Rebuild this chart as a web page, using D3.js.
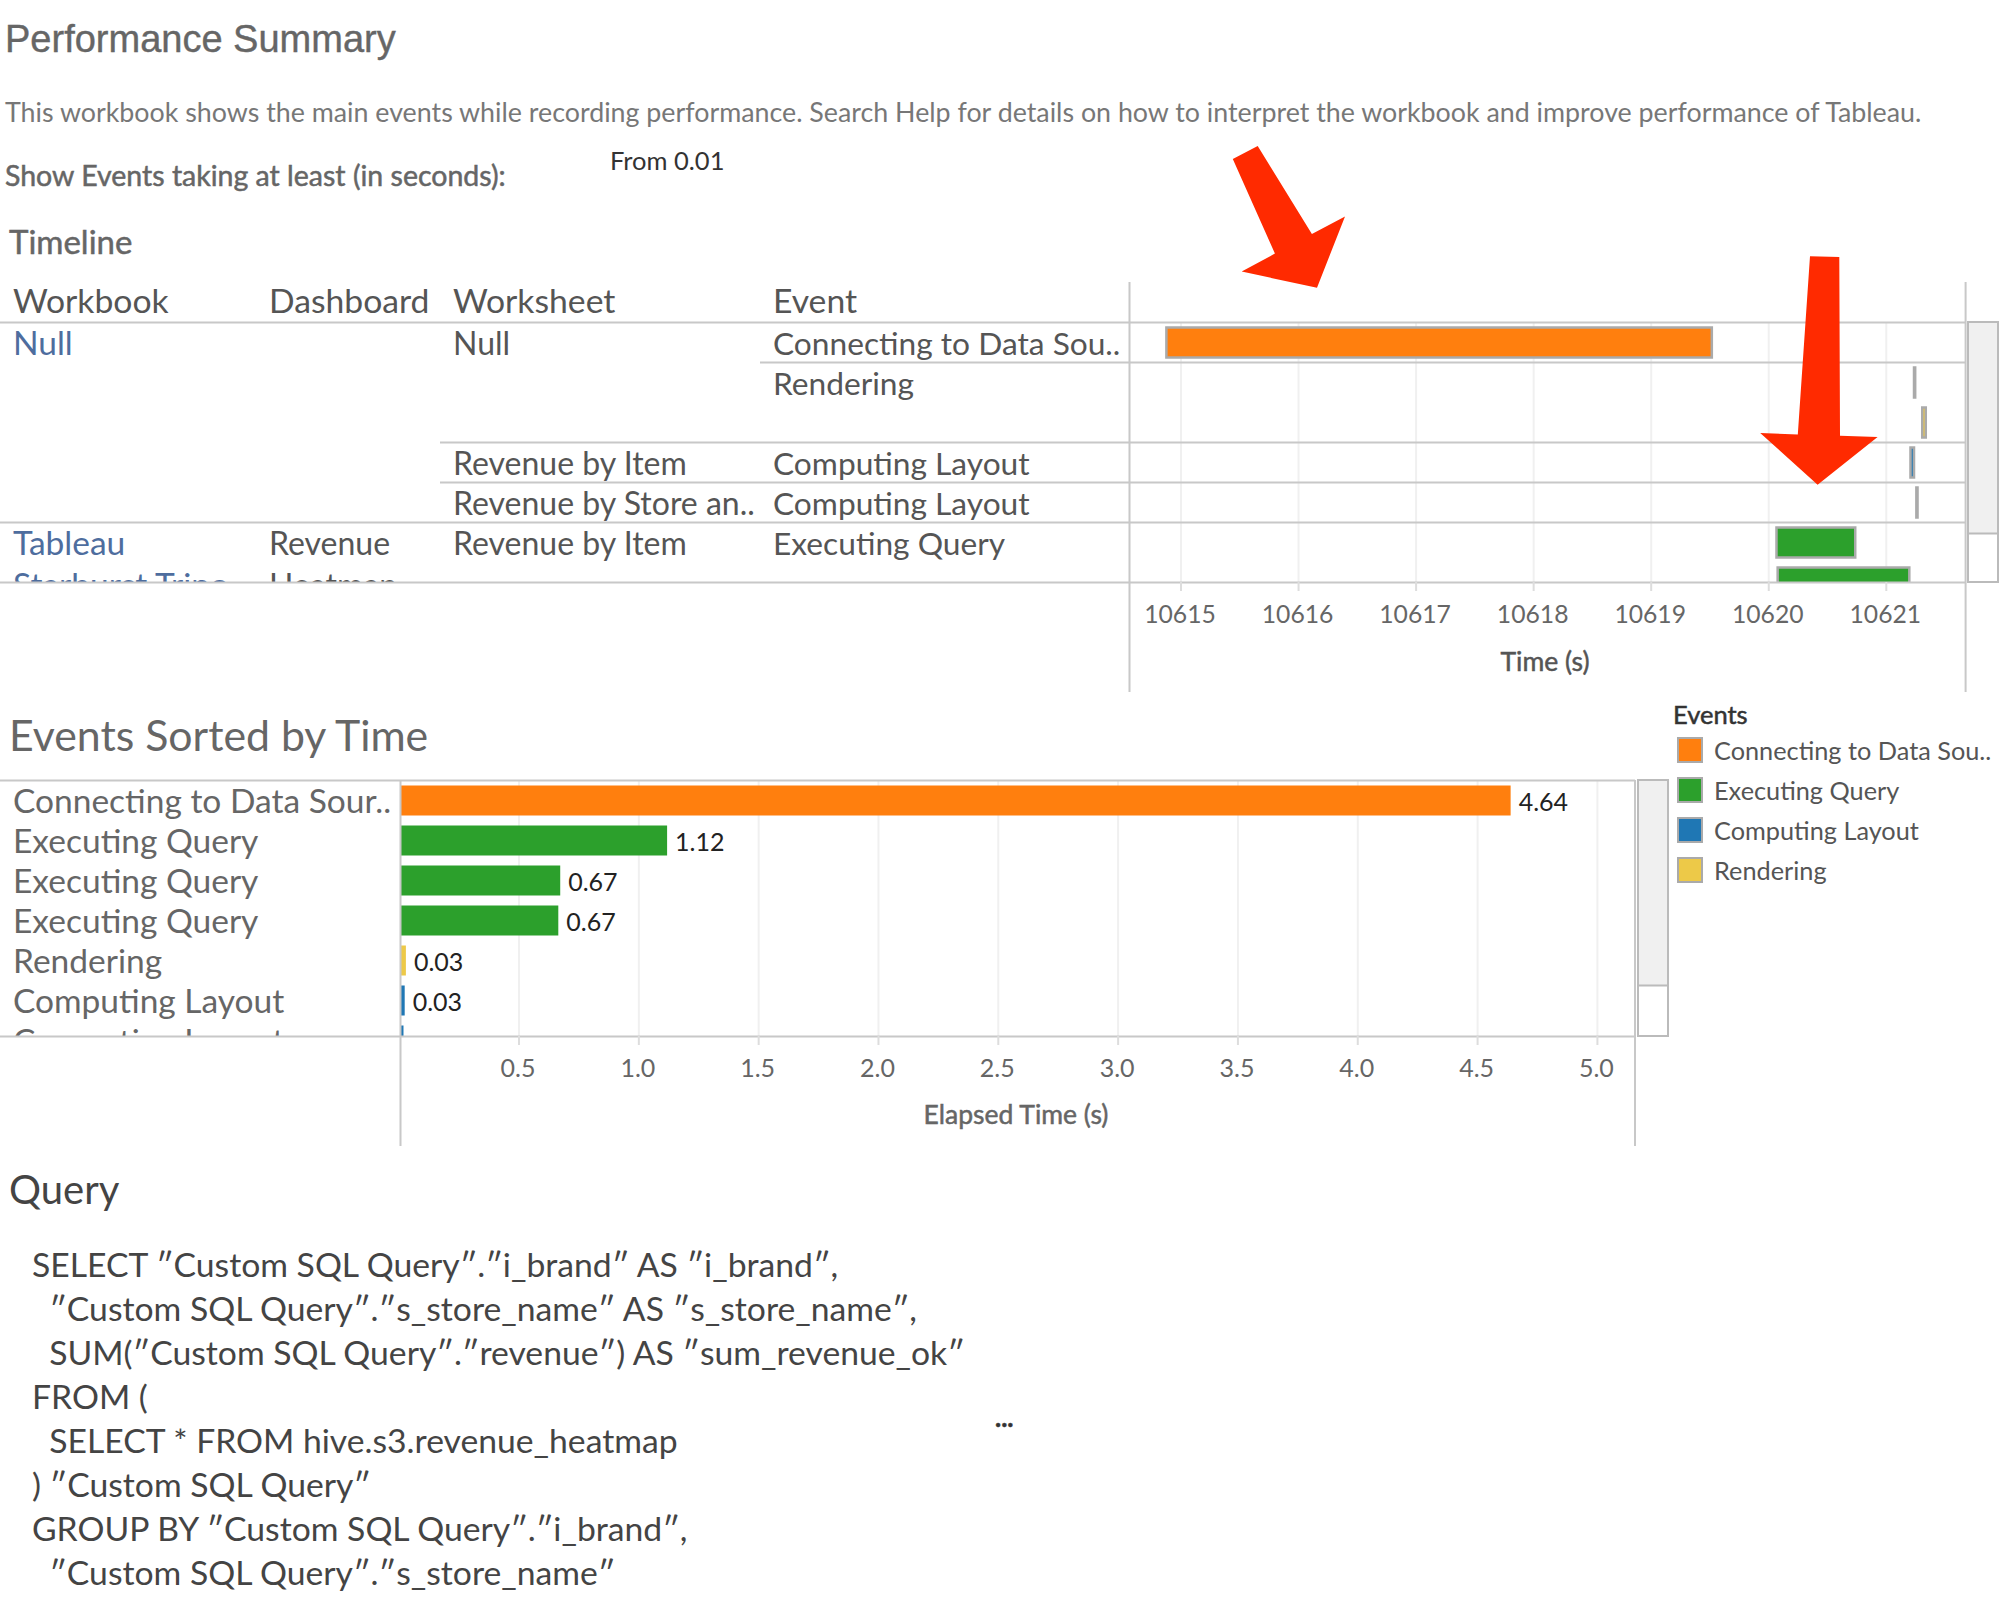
<!DOCTYPE html>
<html><head><meta charset="UTF-8">
<script src="https://cdnjs.cloudflare.com/ajax/libs/d3/7.8.5/d3.min.js"></script>
<style>
html, body { margin: 0; background: #fff; }
svg { display: block; }
text { font-family: Lato, "Noto Sans", sans-serif; white-space: pre; }
</style>
</head>
<body>
<svg id="vis" width="2000" height="1600"></svg>
<script>
// timeline rows
var workbookCol = ["Null", "", "", "", "Tableau", "Starburst Trino"];
var dashboardCol = ["", "", "", "", "Revenue", "Heatmap"];
var worksheetCol = ["Null", "", "Revenue by Item", "Revenue by Store an..", "Revenue by Item", ""];
var eventCol = ["Connecting to Data Sou..", "Rendering", "Computing Layout", "Computing Layout", "Executing Query", ""];
var tableHeaders = ["Workbook", "Dashboard", "Worksheet", "Event"];

// timeline bars, start and length in seconds
var timeRows = [0, 1, 2, 3, 4, 5, 6];
var timeStart = [10614.88, 10621.24, 10621.31, 10621.21, 10621.26, 10620.07, 10620.08];
var timeLength = [4.64, 0.01, 0.03, 0.03, 0.01, 0.67, 1.12];
var timeEvent = ["Connecting to Data Source", "Rendering", "Rendering", "Computing Layout", "Computing Layout", "Executing Query", "Executing Query"];
var timeTicks = [10615, 10616, 10617, 10618, 10619, 10620, 10621];

// sorted bars
var sortedNames = ["Connecting to Data Sour..", "Executing Query", "Executing Query", "Executing Query", "Rendering", "Computing Layout", "Computing Layout"];
var sortedEvent = ["Connecting to Data Source", "Executing Query", "Executing Query", "Executing Query", "Rendering", "Computing Layout", "Computing Layout"];
var sortedValues = [4.64, 1.12, 0.674, 0.666, 0.03, 0.025, 0.02];
var elapsedTicks = [0.5, 1, 1.5, 2, 2.5, 3, 3.5, 4, 4.5, 5];

var legendKeys = ["Connecting to Data Source", "Executing Query", "Computing Layout", "Rendering"];
var legendNames = ["Connecting to Data Sou..", "Executing Query", "Computing Layout", "Rendering"];
var legendColors = ["#ff7f0e", "#2ca02c", "#1f77b4", "#edc948"];

var queryLines = [
  'SELECT ″Custom SQL Query″.″i_brand″ AS ″i_brand″,',
  '  ″Custom SQL Query″.″s_store_name″ AS ″s_store_name″,',
  '  SUM(″Custom SQL Query″.″revenue″) AS ″sum_revenue_ok″',
  'FROM (',
  '  SELECT * FROM hive.s3.revenue_heatmap',
  ') ″Custom SQL Query″',
  'GROUP BY ″Custom SQL Query″.″i_brand″,',
  '  ″Custom SQL Query″.″s_store_name″'
];

var svg = d3.select("#vis");
var color = d3.scaleOrdinal(legendKeys, legendColors);
var lineColor = "#c8c8c8";

svg.append("rect").attr("width", 2000).attr("height", 1600).attr("fill", "#fff");

function label(parent, str, x, y, size, fill) {
  return parent.append("text").attr("x", x).attr("y", y)
    .attr("font-size", size).attr("fill", fill).text(str);
}
// regular Lato with a thin outline stands in for the semibold face
function semi(parent, str, x, y, size, fill) {
  return label(parent, str, x, y, size, fill).attr("stroke", fill).attr("stroke-width", 0.5);
}
function hline(x1, x2, y, c) {
  svg.append("line").attr("x1", x1).attr("x2", x2).attr("y1", y).attr("y2", y)
    .attr("stroke", c || lineColor).attr("stroke-width", 2);
}
function vline(x, y1, y2, c) {
  svg.append("line").attr("x1", x).attr("x2", x).attr("y1", y1).attr("y2", y2)
    .attr("stroke", c || lineColor).attr("stroke-width", 2);
}
function scrollbar(x, w, y1, y2, thumb) {
  svg.append("rect").attr("x", x).attr("y", y1).attr("width", w).attr("height", y2 - y1)
    .attr("fill", "#fff").attr("stroke", "#bbb").attr("stroke-width", 2);
  svg.append("rect").attr("x", x).attr("y", y1).attr("width", w).attr("height", thumb - y1)
    .attr("fill", "#f0f0f0").attr("stroke", "#bbb").attr("stroke-width", 2);
}

// headings
label(svg, "Performance Summary", 5, 52, 38, "#666").style("font-family", "Liberation Sans").attr("stroke", "#666").attr("stroke-width", 0.4);
label(svg, "This workbook shows the main events while recording performance. Search Help for details on how to interpret the workbook and improve performance of Tableau.", 5, 122, 26.8, "#777");
semi(svg, "Show Events taking at least (in seconds):", 5, 186, 28.5, "#666");
label(svg, "From 0.01", 610, 170, 25.5, "#333");
semi(svg, "Timeline", 9, 254, 33, "#666");

// timeline table, text first so the rows can clip it
var tableClip = svg.append("clipPath").attr("id", "tableClip");
tableClip.append("rect").attr("x", 0).attr("y", 322).attr("width", 1130).attr("height", 260);
var chartClip = svg.append("clipPath").attr("id", "chartClip");
chartClip.append("rect").attr("x", 1130).attr("y", 322).attr("width", 835).attr("height", 260);

var colX = [13, 269, 453, 773];
var colSize = [33.5, 32, 32, 31.7];
tableHeaders.forEach(function(h, i) { label(svg, h, colX[i], 313, 33.7, "#555"); });

var rowBase = [355, 395, 475, 515, 555, 597];
var tableText = svg.append("g").attr("clip-path", "url(#tableClip)");
[workbookCol, dashboardCol, worksheetCol, eventCol].forEach(function(col, c) {
  col.forEach(function(v, i) {
    if (v) label(tableText, v, colX[c], rowBase[i], colSize[c], c == 0 ? "#4e6d9e" : "#555");
  });
});

// timeline chart
var xTime = d3.scaleLinear().domain([10615, 10621]).range([1180.5, 1885.8]);
var yTime = d3.scaleBand().domain(timeRows).range([322.5, 602.5]).paddingInner(0.25).paddingOuter(0.125);

svg.append("g").attr("transform", "translate(0,582)")
  .call(d3.axisBottom(xTime).tickValues(timeTicks).tickSize(-260).tickFormat(""))
  .call(function(g) {
    g.select(".domain").remove();
    g.selectAll("line").attr("stroke", "#f0f0f0").attr("stroke-width", 2);
  });

hline(0, 1965, 322.5);
hline(760, 1965, 362.5);
hline(440, 1965, 442.5);
hline(440, 1965, 482.5);
hline(0, 1965, 522.5);

svg.append("g").attr("clip-path", "url(#chartClip)")
  .selectAll("rect").data(timeRows).join("rect")
  .attr("x", function(i) { return xTime(timeStart[i]); })
  .attr("y", function(i) { return yTime(i); })
  .attr("width", function(i) { return xTime(timeStart[i] + timeLength[i]) - xTime(timeStart[i]); })
  .attr("height", yTime.bandwidth())
  .attr("fill", function(i) { return color(timeEvent[i]); })
  .attr("stroke", "#aaa").attr("stroke-width", 2.5);

hline(0, 1965, 582.5);
vline(1129.5, 282, 692);
vline(1965.6, 282, 692);
scrollbar(1968, 30, 322, 582, 533.5);

svg.append("g").attr("transform", "translate(0,582)")
  .call(d3.axisBottom(xTime).tickValues(timeTicks).tickSize(9).tickPadding(14).tickFormat(d3.format("d")))
  .call(function(g) {
    g.select(".domain").remove();
    g.selectAll("line").attr("stroke", "#ddd").attr("stroke-width", 2);
    g.selectAll("text").attr("font-size", 24.7).attr("fill", "#666").attr("font-family", "Lato").attr("dx", -1);
  });
semi(svg, "Time (s)", 1545, 671, 26.5, "#555").attr("text-anchor", "middle");

// sorted chart
label(svg, "Events Sorted by Time", 9, 751, 42.8, "#666");

var xElapsed = d3.scaleLinear().domain([0, 5]).range([398.7, 1596.9]);
var ySorted = d3.scaleBand().domain(d3.range(sortedValues.length)).range([780.5, 1060.5]).paddingInner(0.25).paddingOuter(0.125);

svg.append("g").attr("transform", "translate(0,1036)")
  .call(d3.axisBottom(xElapsed).tickValues(elapsedTicks).tickSize(-256).tickFormat(""))
  .call(function(g) {
    g.select(".domain").remove();
    g.selectAll("line").attr("stroke", "#f0f0f0").attr("stroke-width", 2);
  });

var sortClip = svg.append("clipPath").attr("id", "sortClip");
sortClip.append("rect").attr("x", 400).attr("y", 780).attr("width", 1235).attr("height", 256);
var nameClip = svg.append("clipPath").attr("id", "nameClip");
nameClip.append("rect").attr("x", 0).attr("y", 780).attr("width", 400).attr("height", 256);

svg.append("g").attr("clip-path", "url(#sortClip)")
  .selectAll("rect").data(sortedValues).join("rect")
  .attr("x", xElapsed(0))
  .attr("y", function(d, i) { return ySorted(i); })
  .attr("width", function(d) { return xElapsed(d) - xElapsed(0); })
  .attr("height", ySorted.bandwidth())
  .attr("fill", function(d, i) { return color(sortedEvent[i]); });

var names = svg.append("g").attr("clip-path", "url(#nameClip)");
sortedNames.forEach(function(n, i) {
  label(names, n, 13, ySorted(i) + 27, 33.5, "#666");
});
var fmt = d3.format(".2f");
sortedValues.slice(0, 6).forEach(function(d, i) {
  label(svg, fmt(d), xElapsed(d) + 8, ySorted(i) + 25, 25, "#222");
});

hline(0, 1635, 780.5);
hline(0, 1635, 1036.5);
vline(400.5, 780, 1146);
vline(1635, 780, 1146);
scrollbar(1638, 30, 780, 1036, 985.5);

svg.append("g").attr("transform", "translate(0,1036)")
  .call(d3.axisBottom(xElapsed).tickValues(elapsedTicks).tickSize(9).tickPadding(14).tickFormat(d3.format(".1f")))
  .call(function(g) {
    g.select(".domain").remove();
    g.selectAll("line").attr("stroke", "#ddd").attr("stroke-width", 2);
    g.selectAll("text").attr("font-size", 25).attr("fill", "#666").attr("font-family", "Lato").attr("dx", -1);
  });
semi(svg, "Elapsed Time (s)", 1016, 1124, 26.5, "#666").attr("text-anchor", "middle");

// legend
semi(svg, "Events", 1673, 724, 25.5, "#333");
var legend = svg.append("g").selectAll("g").data(legendNames).join("g")
  .attr("transform", function(d, i) { return "translate(1678," + (738 + i * 40) + ")"; });
legend.append("rect").attr("width", 24).attr("height", 24)
  .attr("fill", function(d, i) { return legendColors[i]; })
  .attr("stroke", "#aaa").attr("stroke-width", 2);
legend.append("text").attr("x", 36).attr("y", 22).attr("font-size", 25.3).attr("fill", "#555")
  .text(function(d) { return d; });

// query
label(svg, "Query", 9, 1204, 40, "#444");
queryLines.forEach(function(q, i) {
  label(svg, q, 32, 1277 + i * 44, 33.7, "#444");
});
semi(svg, "...", 995, 1427, 26, "#333").attr("font-weight", 700);

// the two annotation arrows
var arrowA = [[1257.7, 146], [1232.8, 159], [1274.9, 253.6], [1241.7, 271.6], [1317, 287.7], [1345, 216.5], [1311.9, 234]];
var arrowB = [[1810, 256.3], [1839.3, 257], [1840, 435.8], [1877.6, 437], [1817.6, 484.8], [1760.2, 433], [1797.8, 434.6]];
svg.selectAll("polygon").data([arrowA, arrowB]).join("polygon")
  .attr("points", function(d) { return d.join(" "); })
  .attr("fill", "#ff2a00");
</script>
</body></html>
